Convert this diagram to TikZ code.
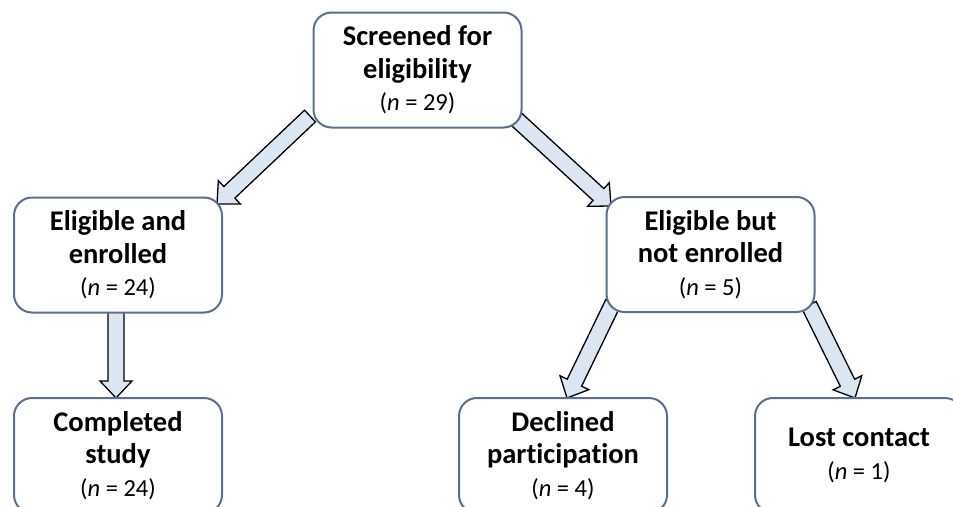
\documentclass[tikz,border=0pt]{standalone}
\usepackage{fontspec}
\setmainfont[Ligatures=NoCommon]{Carlito}
\usetikzlibrary{calc,backgrounds}
\definecolor{boxline}{RGB}{92,112,142}
\definecolor{arrowfill}{RGB}{220,230,242}
\tikzset{
  box/.style={draw=boxline, line width=2pt, rounded corners=18pt, fill=white,
    minimum width=208pt, minimum height=115pt, align=center, inner sep=0pt,
    font=\fontsize{28.5}{32.5}\selectfont},
  blockarrow/.style={draw=black, line width=1.3pt, fill=arrowfill, line join=miter},
}
\newcommand\nval[1]{{\fontsize{24.5}{32.5}\selectfont\mdseries(\textit{n} = #1)}}
\newcommand\blkarrow[2]{%
  \draw[blockarrow] ($(#1)!8pt!90:(#2)$)
    -- ($(#2)!17pt!(#1)!8pt!-90:(#1)$)
    -- ($(#2)!17pt!(#1)!16pt!-90:(#1)$)
    -- (#2)
    -- ($(#2)!17pt!(#1)!16pt!90:(#1)$)
    -- ($(#2)!17pt!(#1)!8pt!90:(#1)$)
    -- ($(#1)!8pt!-90:(#2)$) -- cycle;}
\begin{document}
\begin{tikzpicture}[x=1pt,y=-1pt]
\path[use as bounding box, clip] (0,0) rectangle (953,506);
\node[box] (screen) at (417.5,70) {\textbf{Screened for}\\\textbf{eligibility}\\\nval{29}};
\node[box] (enrol) at (118,255) {\textbf{Eligible and}\\\textbf{enrolled}\\\nval{24}};
\node[box] (notenrol) at (710.5,254.5) {\textbf{Eligible but}\\\textbf{not enrolled}\\\nval{5}};
\node[box] (complete) at (118,455.5) {\textbf{Completed}\\\textbf{study}\\\nval{24}};
\node[box] (decline) at (563,455.5) {\textbf{Declined}\\\textbf{participation}\\\nval{4}};
\node[box] (lost) at (859,455.5) {\textbf{Lost contact}\\\nval{1}};
\coordinate (a1s) at (310,116);
\coordinate (a1e) at (217,204);
\coordinate (a2s) at (514,117);
\coordinate (a2e) at (611,206);
\coordinate (a3s) at (116,310);
\coordinate (a3e) at (116,398);
\coordinate (a4s) at (613,303);
\coordinate (a4e) at (567,398);
\coordinate (a5s) at (809,305);
\coordinate (a5e) at (855,398);
\begin{scope}[on background layer]
\blkarrow{a1s}{a1e}
\blkarrow{a2s}{a2e}
\blkarrow{a3s}{a3e}
\blkarrow{a4s}{a4e}
\blkarrow{a5s}{a5e}
\end{scope}
\end{tikzpicture}
\end{document}
